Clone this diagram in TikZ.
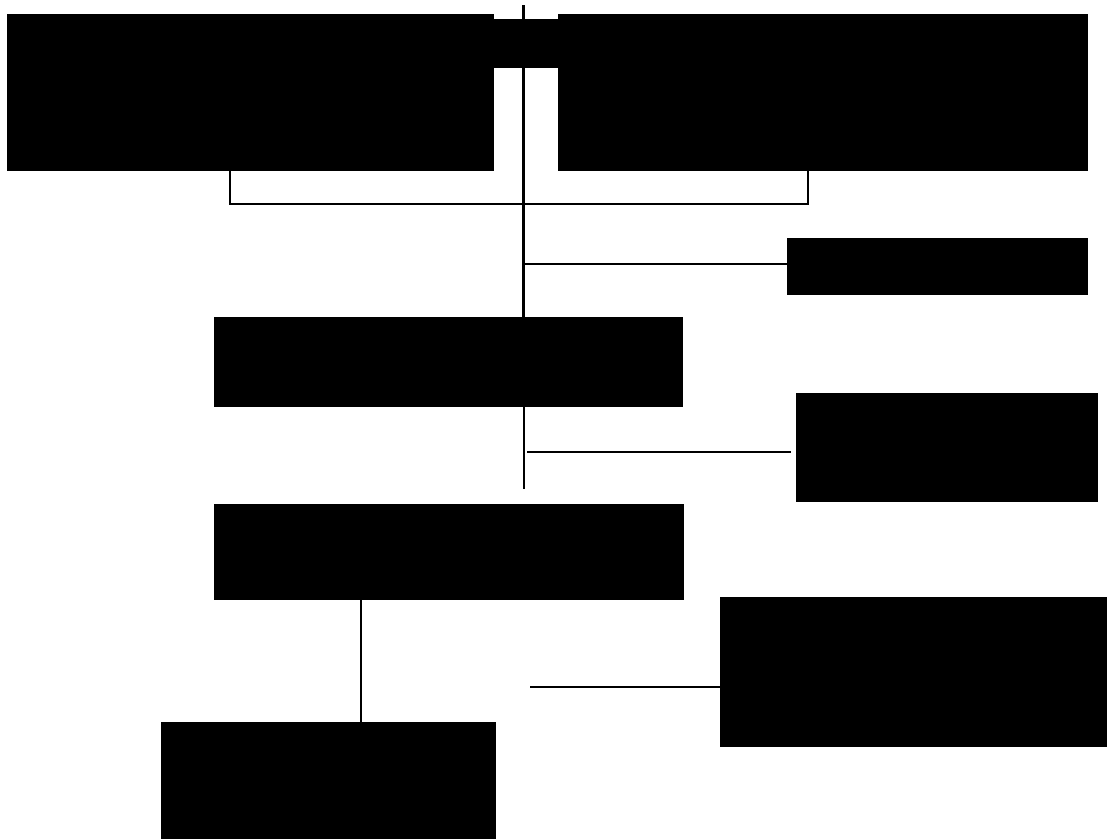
\documentclass[tikz,border=0pt]{standalone}
\begin{document}
\begin{tikzpicture}[x=1pt,y=-1pt,
  blk/.style={fill=black,draw=none,inner sep=0pt,outer sep=0pt,anchor=north west},
  thinln/.style={line width=1.5pt},
  thickln/.style={line width=3pt}]
\useasboundingbox (0,0) rectangle (1107,839);
% boxes
\node[blk,minimum width=487,minimum height=157] (tl) at (7,14) {};
\node[blk,minimum width=64,minimum height=49] (bridge) at (494,19) {};
\node[blk,minimum width=530,minimum height=157] (tr) at (558,14) {};
\node[blk,minimum width=301,minimum height=57] (r1) at (787,238) {};
\node[blk,minimum width=469,minimum height=90] (m1) at (214,317) {};
\node[blk,minimum width=302,minimum height=109] (r2) at (796,393) {};
\node[blk,minimum width=470,minimum height=96] (m2) at (214,504) {};
\node[blk,minimum width=387,minimum height=150] (r3) at (720,597) {};
\node[blk,minimum width=335,minimum height=117] (b1) at (161,722) {};
% coordinates
\coordinate (top) at (523,5);
\coordinate (j1) at (523,264);
\coordinate (j2) at (527,452);
\coordinate (e2) at (524,489);
\coordinate (j3) at (530,687);
% connectors
\draw[thickln] (top) -- (top |- m1.north);
\draw[thinln] (tl.south -| 230,0) -- (230,204) -- (808,204) -- (tr.south -| 808,0);
\draw[thinln] (j1) -- (r1.west |- j1);
\draw[line width=2pt] (m1.south -| 524,0) -- (e2);
\draw[thinln] (j2) -- (791,452);
\draw[thinln] (m2.south -| 361,0) -- (b1.north -| 361,0);
\draw[thinln] (j3) -- (r3.west |- j3);
\end{tikzpicture}
\end{document}
